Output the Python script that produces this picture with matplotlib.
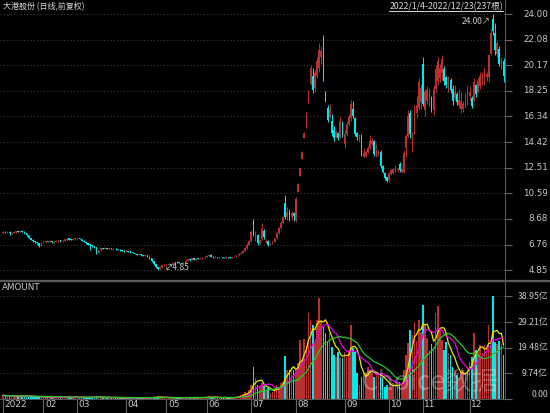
import numpy as np
import pandas as pd
import matplotlib
matplotlib.use('Agg')
import matplotlib.pyplot as plt
from matplotlib.lines import Line2D

CJK = ['Noto Sans CJK SC', 'DejaVu Sans']

# month starts (trading-day index) and their labels
month_pos = [0, 19, 35, 58, 77, 96, 117, 138, 161, 182, 198, 220]
month_lbl = ['2022', '02', '03', '04', '05', '06', '07', '08', '09', '10', '11', '12']

price_ticks = [4.85, 6.76, 8.68, 10.59, 12.51, 14.42, 16.34, 18.25, 20.17, 22.08, 24.00]
amount_ticks = [0.00, 9.74, 19.48, 29.21, 38.95]

# daily open / high / low / close, one row per month
open_ = [
    7.62, 7.70, 7.64, 7.71, 7.60, 7.63, 7.67, 7.76, 7.70, 7.79, 7.71, 7.60, 7.44, 7.25, 7.11, 6.99, 6.93, 6.85, 6.70,
    6.88, 6.94, 7.01, 6.97, 7.02, 6.91, 6.96, 7.01, 7.06, 7.00, 7.05, 7.13, 7.21, 7.13, 7.10, 7.15,
    7.20, 7.22, 7.16, 7.05, 6.95, 6.86, 6.77, 6.70, 6.62, 6.55, 6.16, 6.33, 6.49, 6.44, 6.50, 6.43, 6.48, 6.41, 6.46, 6.40, 6.38, 6.34, 6.31,
    6.25, 6.28, 6.22, 6.20, 6.12, 6.05, 5.97, 6.02, 5.95, 5.92, 5.97, 5.85, 5.72, 5.50, 5.30, 5.06, 4.94, 5.08, 5.19,
    5.21, 5.24, 5.30, 5.22, 5.35, 5.45, 5.42, 5.38, 5.34, 5.40, 5.55, 5.66, 5.60, 5.72, 5.62, 5.70, 5.67, 5.72, 5.80,
    5.85, 5.92, 6.00, 5.86, 5.80, 5.84, 5.78, 5.83, 5.80, 5.76, 5.83, 5.80, 5.78, 5.82, 5.86, 5.95, 6.05, 6.14, 6.30, 6.50, 6.74,
    7.00, 8.50, 7.20, 7.50, 6.90, 7.20, 7.80, 6.95, 7.05, 6.75, 6.82, 6.98, 7.22, 7.60, 8.00, 8.40, 9.90, 8.80, 9.20, 8.80, 9.10,
    8.60, 10.70, 11.90, 13.15, 14.75, 15.50, 17.40, 18.80, 19.40, 18.50, 19.40, 20.00, 20.80, 21.50, 18.20, 17.00, 16.30, 16.00, 15.30, 14.80, 15.10, 14.80, 15.90,
    14.30, 15.00, 15.80, 16.20, 16.90, 16.20, 15.10, 14.60, 14.80, 13.30, 13.40, 13.70, 14.00, 14.30, 14.50, 13.40, 13.50, 13.70, 12.60, 12.10, 11.80,
    11.60, 12.00, 12.10, 12.30, 12.30, 12.80, 12.20, 12.20, 14.00, 14.90, 16.60, 14.30, 15.20, 16.60, 17.00, 17.40,
    20.30, 16.80, 17.50, 17.30, 17.70, 16.80, 18.40, 19.00, 19.20, 19.60, 19.90, 19.30, 18.40, 19.10, 18.40, 17.70, 18.00, 17.20, 16.90, 16.90, 17.20, 17.50,
    17.90, 17.70, 17.60, 18.70, 18.20, 18.60, 19.00, 19.30, 19.30, 19.30, 21.00, 23.60, 22.60, 21.00, 21.40, 20.10, 20.50,
]
high = [
    7.76, 7.74, 7.78, 7.74, 7.68, 7.72, 7.80, 7.79, 7.84, 7.82, 7.74, 7.62, 7.47, 7.28, 7.14, 7.02, 6.96, 6.88, 6.92,
    6.99, 7.04, 7.04, 7.06, 7.05, 6.99, 7.05, 7.10, 7.09, 7.08, 7.18, 7.25, 7.24, 7.16, 7.19, 7.26,
    7.27, 7.25, 7.18, 7.07, 6.98, 6.88, 6.80, 6.73, 6.65, 6.58, 6.35, 6.52, 6.52, 6.54, 6.53, 6.51, 6.50, 6.49, 6.48, 6.43, 6.41, 6.37, 6.34,
    6.32, 6.31, 6.26, 6.23, 6.15, 6.08, 6.06, 6.05, 5.98, 6.01, 6.00, 5.88, 5.75, 5.53, 5.33, 5.10, 5.12, 5.24, 5.28,
    5.30, 5.34, 5.32, 5.38, 5.50, 5.50, 5.46, 5.41, 5.44, 5.60, 5.70, 5.70, 5.76, 5.75, 5.74, 5.74, 5.76, 5.84, 5.90,
    5.96, 6.05, 6.02, 5.90, 5.88, 5.86, 5.86, 5.86, 5.83, 5.87, 5.86, 5.83, 5.85, 5.89, 5.99, 6.10, 6.20, 6.36, 6.58, 6.85, 7.12,
    7.84, 8.70, 7.80, 7.55, 7.20, 8.40, 7.90, 7.15, 7.10, 6.90, 7.02, 7.26, 7.66, 8.08, 8.50, 8.90, 10.46, 9.60, 9.40, 9.30, 9.20,
    10.33, 11.35, 12.50, 13.72, 15.17, 16.67, 18.30, 20.20, 20.00, 19.80, 20.80, 21.80, 21.60, 22.40, 18.25, 17.20, 17.30, 16.50, 15.60, 15.30, 15.20, 16.30, 16.00,
    15.30, 16.00, 16.50, 17.60, 17.50, 16.30, 15.20, 15.00, 15.00, 14.00, 13.80, 14.10, 14.95, 14.70, 14.60, 14.30, 13.85, 13.80, 12.70, 12.20, 11.83,
    12.20, 12.40, 12.50, 12.70, 12.50, 12.90, 12.50, 13.80, 15.00, 16.80, 16.80, 15.20, 17.20, 17.90, 19.20, 18.80,
    20.80, 18.40, 18.60, 18.50, 17.90, 18.70, 20.20, 20.80, 20.30, 20.90, 20.10, 19.40, 19.40, 19.20, 18.70, 18.70, 18.20, 18.40, 18.20, 17.50, 18.10, 18.70,
    18.60, 17.90, 19.20, 18.80, 19.20, 19.70, 19.70, 20.00, 19.70, 21.00, 22.90, 24.00, 23.30, 22.00, 21.60, 20.80, 20.70,
]
low = [
    7.58, 7.60, 7.60, 7.45, 7.55, 7.60, 7.64, 7.66, 7.68, 7.69, 7.58, 7.42, 7.22, 7.08, 6.96, 6.88, 6.80, 6.55, 6.66,
    6.85, 6.90, 6.94, 6.94, 6.89, 6.88, 6.93, 6.98, 6.97, 6.97, 7.02, 7.10, 7.09, 7.06, 7.07, 7.12,
    7.15, 7.14, 7.02, 6.92, 6.82, 6.70, 6.38, 6.58, 6.50, 6.08, 6.10, 6.30, 6.42, 6.41, 6.40, 6.40, 6.39, 6.38, 6.37, 6.35, 6.30, 6.28, 6.22,
    6.20, 6.19, 6.16, 6.09, 6.02, 5.95, 5.94, 5.92, 5.88, 5.89, 5.82, 5.68, 5.46, 5.26, 5.02, 4.85, 4.92, 5.04, 5.14,
    5.17, 5.20, 5.18, 5.19, 5.32, 5.38, 5.35, 5.31, 5.31, 5.37, 5.52, 5.56, 5.57, 5.58, 5.59, 5.64, 5.64, 5.68, 5.76,
    5.82, 5.88, 5.84, 5.77, 5.77, 5.75, 5.76, 5.77, 5.73, 5.74, 5.77, 5.75, 5.76, 5.79, 5.83, 5.92, 6.02, 6.10, 6.26, 6.46, 6.70,
    6.95, 7.40, 7.00, 6.70, 6.80, 7.10, 7.20, 6.85, 6.62, 6.70, 6.78, 6.95, 7.18, 7.55, 7.95, 8.35, 8.70, 8.60, 8.50, 8.60, 8.50,
    8.45, 10.68, 11.88, 13.12, 14.70, 15.45, 17.35, 18.70, 18.10, 18.20, 19.20, 19.70, 20.30, 19.00, 17.40, 15.90, 16.20, 14.90, 14.50, 14.70, 14.60, 14.70, 14.80,
    14.00, 14.90, 15.60, 16.00, 16.20, 14.90, 14.60, 14.40, 13.40, 13.20, 13.30, 13.60, 13.90, 14.20, 13.40, 13.30, 13.40, 12.50, 12.10, 11.60, 11.40,
    11.45, 11.95, 12.00, 12.20, 12.20, 12.20, 12.10, 12.10, 13.30, 14.80, 14.70, 13.70, 15.00, 16.20, 16.80, 16.90,
    17.10, 16.40, 17.30, 17.10, 16.70, 16.45, 18.20, 18.70, 18.90, 19.10, 18.70, 18.50, 18.20, 18.10, 17.20, 17.60, 17.20, 16.95, 16.60, 16.70, 16.95, 17.20,
    17.50, 16.95, 17.50, 17.80, 18.10, 18.40, 18.70, 18.70, 19.00, 18.90, 20.90, 22.40, 20.90, 20.80, 20.10, 19.90, 18.90,
]
close = [
    7.70, 7.64, 7.72, 7.60, 7.63, 7.68, 7.75, 7.70, 7.78, 7.72, 7.60, 7.45, 7.26, 7.12, 7.00, 6.92, 6.84, 6.68, 6.88,
    6.95, 7.00, 6.97, 7.03, 6.92, 6.96, 7.02, 7.06, 7.00, 7.05, 7.14, 7.20, 7.12, 7.10, 7.16, 7.21,
    7.22, 7.17, 7.05, 6.95, 6.86, 6.76, 6.70, 6.62, 6.55, 6.15, 6.32, 6.48, 6.45, 6.50, 6.44, 6.48, 6.42, 6.46, 6.40, 6.38, 6.34, 6.31, 6.26,
    6.28, 6.22, 6.20, 6.12, 6.05, 5.98, 6.03, 5.95, 5.92, 5.98, 5.85, 5.72, 5.50, 5.30, 5.06, 4.95, 5.08, 5.20, 5.22,
    5.25, 5.30, 5.22, 5.35, 5.45, 5.42, 5.38, 5.35, 5.40, 5.55, 5.65, 5.60, 5.72, 5.62, 5.70, 5.68, 5.72, 5.80, 5.85,
    5.92, 6.00, 5.86, 5.80, 5.84, 5.78, 5.82, 5.80, 5.76, 5.83, 5.80, 5.78, 5.82, 5.86, 5.95, 6.05, 6.14, 6.30, 6.50, 6.74, 7.05,
    7.70, 7.55, 7.65, 6.85, 7.10, 7.90, 7.30, 7.05, 6.75, 6.82, 6.98, 7.22, 7.60, 8.00, 8.40, 8.80, 8.80, 9.20, 8.80, 9.10, 8.90,
    10.20, 11.30, 12.45, 13.70, 15.10, 16.60, 18.20, 19.97, 18.30, 19.60, 20.50, 21.30, 21.20, 19.30, 17.50, 16.10, 16.90, 15.10, 14.70, 15.20, 14.70, 16.00, 15.00,
    15.00, 15.80, 16.30, 17.30, 16.40, 15.00, 14.80, 14.90, 13.50, 13.60, 13.70, 14.00, 14.50, 14.50, 13.50, 13.80, 13.75, 12.60, 12.20, 11.70, 11.50,
    12.10, 12.30, 12.40, 12.50, 12.40, 12.35, 12.40, 13.60, 14.90, 16.40, 15.00, 14.95, 16.80, 17.20, 18.90, 18.50,
    17.30, 18.20, 18.30, 18.40, 16.90, 18.40, 19.90, 20.50, 20.00, 20.60, 19.00, 18.70, 19.10, 18.30, 17.50, 18.20, 17.40, 17.60, 17.50, 17.30, 17.80, 18.40,
    18.20, 17.10, 18.90, 18.00, 19.00, 19.40, 19.60, 19.90, 19.50, 20.90, 22.60, 22.70, 21.30, 21.80, 20.30, 20.60, 19.40,
]
# turnover, 亿元
amount = [
    1.4, 1.2, 1.3, 1.1, 1.0, 1.1, 1.3, 1.0, 1.2, 1.0, 0.9, 1.1, 1.2, 0.9, 0.8, 0.8, 0.7, 1.0, 0.8,
    0.6, 0.7, 0.6, 0.7, 0.6, 0.5, 0.6, 0.7, 0.6, 0.6, 0.8, 0.9, 0.7, 0.6, 0.6, 0.7,
    0.7, 0.6, 0.6, 0.6, 0.7, 0.6, 0.8, 0.6, 0.6, 1.0, 0.8, 0.7, 0.5, 0.5, 0.6, 0.5, 0.5, 0.5, 0.4, 0.5, 0.5, 0.4, 0.5,
    0.5, 0.4, 0.5, 0.4, 0.4, 0.5, 0.4, 0.4, 0.4, 0.5, 0.5, 0.6, 0.7, 0.8, 0.8, 0.9, 0.7, 0.6, 0.5,
    0.5, 0.5, 0.4, 0.5, 0.6, 0.5, 0.4, 0.4, 0.5, 0.7, 0.7, 0.5, 0.6, 0.5, 0.5, 0.5, 0.5, 0.6, 0.6,
    0.8, 1.0, 0.7, 0.6, 0.5, 0.5, 0.5, 0.5, 0.4, 0.5, 0.5, 0.5, 0.5, 0.6, 0.9, 1.2, 1.5, 1.9, 2.8, 2.2, 3.5,
    5.3, 12.1, 7.8, 5.5, 4.5, 5.9, 4.8, 3.5, 4.1, 2.2, 2.5, 4.0, 5.5, 4.5, 6.0, 6.5, 16.3, 11.0, 11.0, 12.2, 11.0,
    11.0, 13.5, 22.4, 14.8, 22.6, 20.0, 32.5, 30.0, 28.0, 21.1, 29.9, 38.2, 29.9, 27.4, 24.9, 21.7, 24.9, 19.8, 16.7, 16.0, 17.9, 15.4, 15.4,
    17.9, 16.0, 18.6, 28.0, 19.2, 17.9, 9.7, 5.3, 8.5, 9.7, 9.7, 12.2, 11.0, 9.7, 8.5, 9.1, 9.7, 8.5, 7.8, 4.7, 5.3,
    4.7, 4.7, 5.9, 5.3, 4.7, 6.5, 5.3, 11.0, 16.7, 21.1, 26.1, 24.3, 29.3, 22.0, 29.9, 25.5,
    35.6, 28.0, 23.0, 18.6, 21.0, 19.2, 32.5, 35.2, 26.1, 22.4, 18.6, 21.7, 17.3, 16.7, 12.2, 11.0, 9.1, 7.8, 10.4, 11.0, 9.7, 12.2,
    14.2, 16.0, 24.9, 18.6, 17.9, 20.5, 17.3, 20.5, 19.5, 28.0, 20.5, 39.0, 21.7, 21.0, 22.0, 21.0, 16.7,
]

o = np.array(open_); h = np.array(high); l = np.array(low); c = np.array(close)
amt = np.array(amount)
x = np.arange(len(c))

RED = '#b83030'
CYAN = '#00eaea'
TXT = '#c8c8c8'
up = c >= o
col = np.where(up, RED, CYAN)

fig = plt.figure(figsize=(5.5, 4.13), dpi=100, facecolor='black')
ax = fig.add_axes([0, 0.3196, 0.9182, 0.6804], facecolor='black')
axv = fig.add_axes([0, 0.0339, 0.9182, 0.2857], facecolor='black', sharex=ax)

# price panel
for t in price_ticks:
    ax.axhline(t, color='#3a3a3a', lw=0.8, ls=(0, (1, 2)), zorder=0)
ax.vlines(x, l, h, colors=col, lw=0.7, zorder=2)
ax.bar(x, np.maximum(np.abs(c - o), 0.04), bottom=np.minimum(o, c), width=0.75,
       color=col, linewidth=0, zorder=3)
ax.set_xlim(-1.5, 236.7)
ax.set_ylim(4.03, 25.05)
ax.set_yticks(price_ticks)
ax.tick_params(axis='y', left=False, right=True, labelleft=False, labelright=False,
               length=5, color='#666666', width=0.8)
ax.tick_params(axis='x', bottom=False, labelbottom=False)
for t in price_ticks:
    ax.text(1.085, t, f'{t:.2f}', transform=ax.get_yaxis_transform(), ha='right',
            va='center', color=TXT, fontsize=6.3, clip_on=False)
for s in ['top', 'left', 'bottom']:
    ax.spines[s].set_visible(False)
ax.spines['right'].set_color('#555555')

imax = int(np.argmax(h)); imin = int(np.argmin(l))
ax.text(imax - 1.2, h[imax] - 0.55, f'{h[imax]:.2f}\u2197', ha='right', va='center',
        color=TXT, fontsize=6.0, family=CJK)
ax.text(imin + 3.0, l[imin] + 0.2, f'\u2199{l[imin]:.2f}', ha='left', va='center',
        color=TXT, fontsize=6.0, family=CJK)

# amount panel
for t in amount_ticks[1:]:
    axv.axhline(t, color='#3a3a3a', lw=0.8, ls=(0, (1, 2)), zorder=0)
axv.bar(x, amt, width=0.75, color=col, linewidth=0, zorder=2)
s = pd.Series(amt)
for n, lc in [(5, '#e8e800'), (10, '#e800e8'), (20, '#22cc22')]:
    axv.plot(x, s.rolling(n, min_periods=1).mean(), color=lc, lw=0.9, zorder=3)
axv.set_ylim(0, 44.8)
axv.set_yticks(amount_ticks)
axv.tick_params(axis='y', left=False, right=True, labelleft=False, labelright=False,
                length=5, color='#666666', width=0.8)
for t in amount_ticks:
    lab = '0.00' if t == 0 else f'{t:.2f}亿'
    axv.text(1.085, t, lab, transform=axv.get_yaxis_transform(), ha='right',
             va='bottom' if t == 0 else 'center', color=TXT, fontsize=6.3,
             family=CJK, clip_on=False)
axv.set_xticks(month_pos)
axv.tick_params(axis='x', length=10, color='#666666', width=0.8, labelbottom=False)
for p, lb in zip(month_pos, month_lbl):
    axv.text(p + 0.7, -0.01, lb, transform=axv.get_xaxis_transform(), ha='left',
             va='top', color=TXT, fontsize=6.5)
for s_ in ['top', 'left']:
    axv.spines[s_].set_visible(False)
axv.spines['right'].set_color('#555555')
axv.spines['bottom'].set_color('#555555')

# separators, headers, watermark
fig.add_artist(Line2D([0, 1], [0.3196, 0.3196], transform=fig.transFigure,
                      color='#5a5a5a', lw=1.6))
fig.text(3 / 550, 1 - 7 / 413, '大港股份 (日线,前复权)', ha='left', va='center',
         color='#d8d8d8', fontsize=5.8, family=CJK)
hdr = fig.text(503 / 550, 1 - 6.5 / 413, '2022/1/4-2022/12/23(237根)', ha='right',
               va='center', color='#d8d8d8', fontsize=6.3, family=CJK)
fig.text(2 / 550, 1 - 287 / 413, 'AMOUNT', ha='left', va='center', color=TXT,
         fontsize=6.3)
fig.text(430 / 550, 1 - 382 / 413, 'Choice数据', ha='center', va='center',
         color='white', alpha=0.3, fontsize=19, family=CJK)

fig.canvas.draw()
bb = hdr.get_window_extent()
fig.add_artist(Line2D([bb.x0 / 550, bb.x1 / 550], [bb.y0 / 413, bb.y0 / 413],
                      transform=fig.transFigure, color='#d8d8d8', lw=0.7))

fig.savefig('out.png', dpi=100, facecolor='black')
